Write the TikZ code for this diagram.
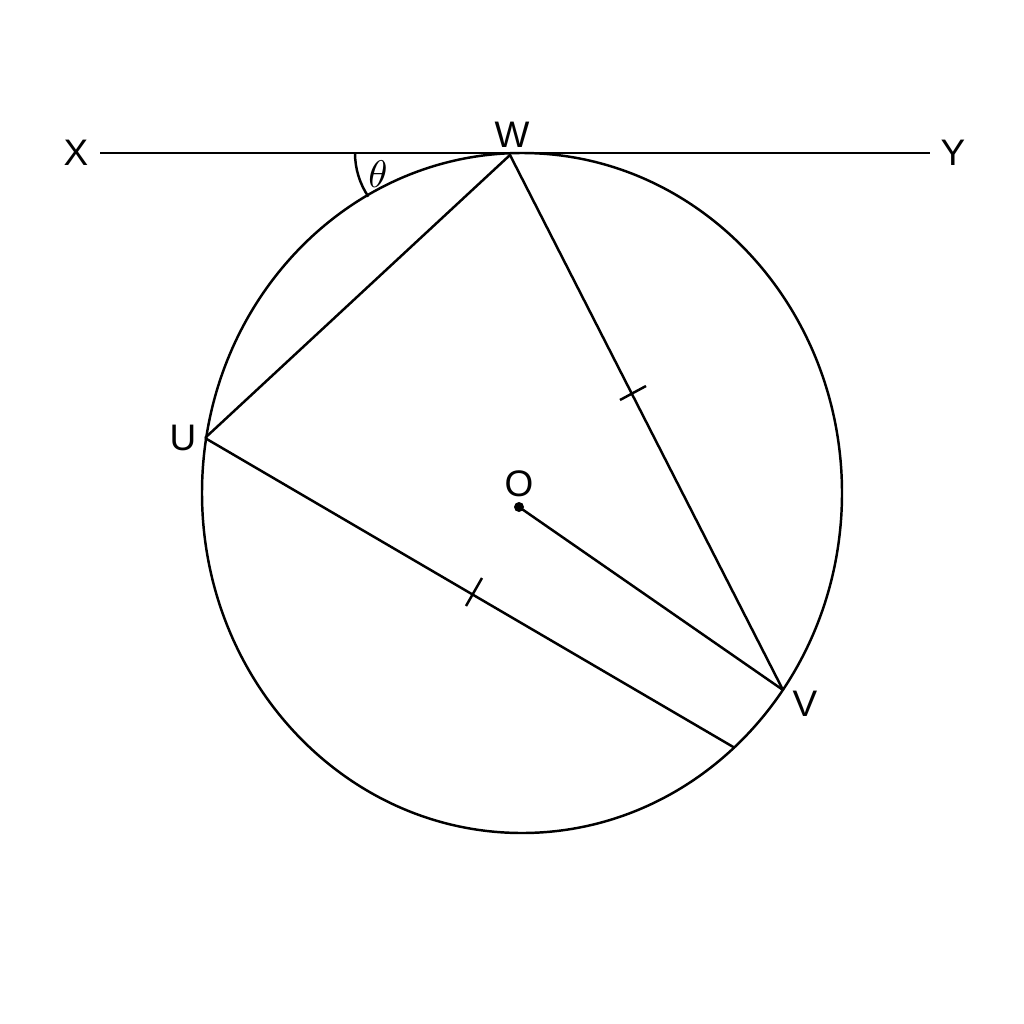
\documentclass[tikz,border=0pt]{standalone}
\usepackage{fontspec}
\setmainfont{Liberation Sans}
\usetikzlibrary{calc}
\begin{document}
\begin{tikzpicture}[x=0.01cm,y=-0.01cm,
  ln/.style={line width=0.7pt,black},
  lbl/.style={font=\fontsize{10.5}{12}\selectfont},
  tick/.style={line width=0.7pt}]
\useasboundingbox (0,0) rectangle (1024,1024);
% circle
\draw[ln] (522,493) ellipse [x radius=320, y radius=340];
% points
\coordinate (W) at (510,155);
\coordinate (U) at (205,438);
\coordinate (V) at (783,690);
\coordinate (E) at (735,748);
\coordinate (O) at (519,507);
\coordinate (Xe) at (100,153);
\coordinate (Ye) at (930,153);
\coordinate (T1) at (633,393);
\coordinate (T2) at (474,592);
\coordinate (A) at (433,153);
% tangent
\draw[ln] (Xe) -- (Ye);
\node[lbl] (X) at (76,153) {X};
\node[lbl] (Y) at (953,153) {Y};
\node[lbl] (Wl) at (512,135) {W};
\node[lbl] (Ul) at (183,438) {U};
\node[lbl] (Vl) at (805,704) {V};
\node[lbl] (Ol) at (519,484) {O};
% chords
\draw[ln] (U) -- (W) -- (V);
\draw[ln] (U) -- (E);
\draw[ln] (O) -- (V);
\fill (O) circle [radius=5];
% ticks
\draw[tick] (T1) ++(-13,7) -- ++(26,-14);
\draw[tick] (T2) ++(-8,14) -- ++(16,-28);
% angle
\draw[ln] (A) ++(180:78) arc[start angle=180, end angle=146, radius=78];
\node (th) at (378,174) {\fontsize{11}{12}\selectfont$\theta$};
\end{tikzpicture}
\end{document}
